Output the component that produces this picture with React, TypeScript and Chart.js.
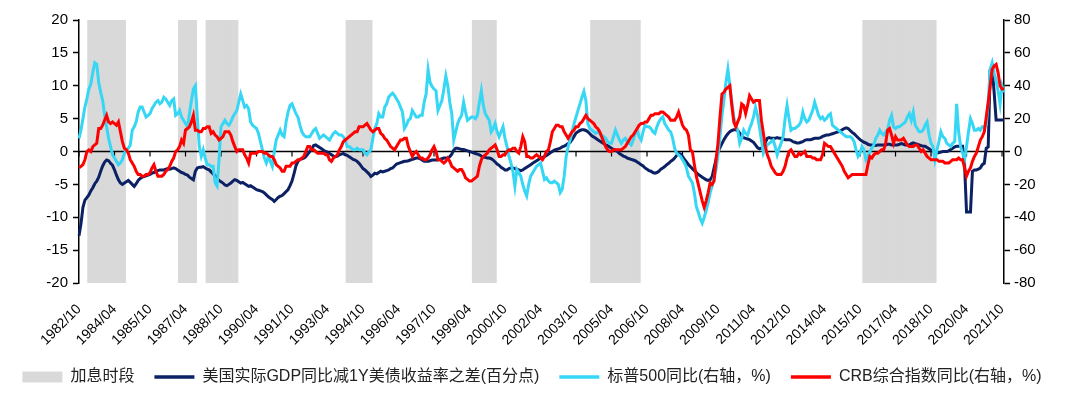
import React, { useEffect, useRef } from "react";
import { Chart, registerables } from "chart.js";

Chart.register(...registerables);

const START_YEAR = 1982;
const START_MONTH = 10;
const LEFT_MIN = -20;
const LEFT_MAX = 20;

const tickLabels = [
  "1982/10", "1984/04", "1985/10", "1987/04", "1988/10", "1990/04", "1991/10",
  "1993/04", "1994/10", "1996/04", "1997/10", "1999/04", "2000/10", "2002/04",
  "2003/10", "2005/04", "2006/10", "2008/04", "2009/10", "2011/04", "2012/10",
  "2014/04", "2015/10", "2017/04", "2018/10", "2020/04", "2021/10",
];

// 加息时段 (start, end)
const hikePeriods: [string, string][] = [
  ["1983/03", "1984/09"],
  ["1987/01", "1987/09"],
  ["1988/03", "1989/06"],
  ["1994/02", "1995/02"],
  ["1999/06", "2000/05"],
  ["2004/06", "2006/06"],
  ["2015/12", "2018/12"],
];

// 美国实际GDP同比减1Y美债收益率之差 (百分点), monthly from 1982/10
const gdpSpread = [
  -12.8, -11.0, -8.5, -7.4, -7.0, -6.6, -6.0, -5.5, -4.9, -4.5,
  -3.9, -3.0, -2.2, -1.6, -1.3, -1.4, -1.8, -2.1, -2.8, -3.6,
  -4.3, -4.8, -5.0, -4.8, -4.6, -4.4, -4.7, -5.0, -5.3, -4.9,
  -4.4, -4.1, -3.9, -3.8, -3.7, -3.6, -3.5, -3.3, -3.2, -3.0,
  -2.9, -2.8, -2.8, -2.8, -2.7, -2.6, -2.7, -2.6, -2.5, -2.6,
  -2.8, -3.0, -3.2, -3.3, -3.5, -3.6, -3.9, -4.1, -4.3, -3.0,
  -2.5, -2.4, -2.4, -2.3, -2.5, -2.7, -2.8, -3.1, -3.4, -3.7,
  -4.1, -4.4, -4.6, -4.8, -5.1, -5.2, -5.0, -4.8, -4.5, -4.3,
  -4.4, -4.6, -4.8, -4.7, -4.9, -5.1, -5.3, -5.2, -5.4, -5.6,
  -5.8, -5.9, -6.0, -6.1, -6.3, -6.6, -6.9, -7.1, -7.3, -7.6,
  -7.3, -7.0, -6.8, -6.7, -6.4, -6.1, -5.8, -5.2, -4.5, -3.4,
  -2.2, -1.5, -1.2, -1.1, -1.0, -0.8, -0.4, 0.0, 0.4, 0.9,
  1.0, 0.8, 0.6, 0.4, 0.2, 0.0, -0.1, -0.3, -0.5, -0.7,
  -0.8, -0.7, -0.5, -0.4, -0.3, -0.5, -0.6, -0.8, -1.0, -1.2,
  -1.3, -1.5, -1.8, -2.2, -2.6, -2.8, -3.1, -3.4, -3.8, -3.6,
  -3.3, -3.4, -3.2, -3.0, -3.1, -3.0, -2.9, -2.8, -2.6, -2.5,
  -2.2, -1.9, -1.8, -1.7, -1.6, -1.5, -1.5, -1.4, -1.3, -1.2,
  -1.1, -1.0, -1.0, -1.1, -1.3, -1.5, -1.5, -1.5, -1.4, -1.3,
  -1.3, -1.3, -1.3, -1.2, -1.1, -1.0, -1.0, -1.0, -0.8, -0.4,
  0.2, 0.5, 0.5, 0.4, 0.3, 0.3, 0.2, 0.1, 0.0, -0.1,
  -0.2, -0.3, -0.4, -0.5, -0.7, -0.8, -0.9, -1.0, -1.0, -1.1,
  -1.3, -1.6, -1.9, -2.1, -2.4, -2.6, -2.8, -2.8, -2.6, -2.5,
  -2.5, -2.6, -2.7, -2.8, -2.9, -2.8, -2.6, -2.4, -2.2, -2.0,
  -1.8, -1.6, -1.4, -1.2, -1.0, -0.9, -0.8, -0.6, -0.4, -0.2,
  0.0, 0.2, 0.3, 0.4, 0.5, 0.7, 0.8, 1.0, 1.2, 1.4,
  1.8, 2.3, 2.8, 3.0, 3.2, 3.3, 3.3, 3.2, 3.0, 2.7,
  2.4, 2.2, 2.0, 1.8, 1.6, 1.4, 1.2, 1.0, 0.9, 0.7,
  0.5, 0.3, 0.2, 0.0, -0.3, -0.5, -0.7, -0.8, -1.0, -1.1,
  -1.2, -1.3, -1.4, -1.6, -1.8, -2.0, -2.2, -2.5, -2.7, -2.9,
  -3.0, -3.2, -3.3, -3.2, -3.0, -2.7, -2.5, -2.3, -2.0, -1.8,
  -1.5, -1.3, -1.0, -0.6, -0.3, -0.4, -0.8, -1.2, -1.6, -2.0,
  -2.3, -2.6, -2.9, -3.2, -3.5, -3.7, -3.9, -4.1, -4.3, -4.4,
  -4.3, -3.8, -2.5, -1.2, 0.0, 0.6, 1.2, 1.8, 2.3, 2.7,
  3.0, 3.2, 3.3, 3.3, 3.2, 2.8, 2.4, 2.1, 2.0, 1.9,
  1.8, 1.6, 1.4, 1.0, 0.6, 0.4, 0.5, 0.7, 1.4, 2.0,
  2.1, 2.0, 2.0, 2.0, 2.1, 2.0, 2.0, 1.9, 1.8, 1.8,
  1.8, 1.7, 1.5, 1.4, 1.3, 1.3, 1.4, 1.5, 1.7, 1.8,
  1.8, 1.8, 1.9, 2.0, 2.0, 2.0, 2.1, 2.3, 2.4, 2.5,
  2.5, 2.6, 2.7, 2.8, 2.9, 3.0, 3.1, 3.3, 3.5, 3.6,
  3.5, 3.2, 2.9, 2.7, 2.4, 2.1, 1.8, 1.6, 1.4, 1.3,
  1.1, 1.0, 1.0, 0.9, 0.9, 1.0, 1.0, 1.0, 1.0, 1.0,
  1.1, 1.1, 1.0, 1.0, 1.0, 1.0, 1.1, 1.2, 1.1, 1.0,
  1.0, 1.0, 1.2, 1.3, 1.2, 1.1, 1.0, 0.9, 0.8, 0.8,
  0.6, 0.4, 0.2, 0.1, -0.1, -0.2, -0.2, -0.1, 0.0, 0.0,
  0.0, 0.1, 0.3, 0.5, 0.7, 0.8, 0.8, 0.8, 0.8, -2.0,
  -9.2, -9.2, -9.2, -3.0, -2.8, -2.8, -2.7, -2.5, -2.0, -1.8,
  0.5, 0.7, 12.4, 12.7, 9.0, 4.8, 4.8, 4.8, 4.8, 4.8,
];

// 标普500同比 (%), right axis
const sp500Yoy = [
  8, 13, 20, 27, 32, 38, 41, 48, 54, 53,
  42, 36, 31, 22, 15, 8, 3, -2, -4, -6,
  -8, -7, -5, -1, 1, 2, 4, 13, 15, 18,
  24, 27, 27, 24, 21, 22, 23, 26, 28, 30,
  31, 29, 30, 33, 32, 30, 28, 31, 32, 22,
  23, 25, 21, 19, 17, 15, 23, 31, 38, 40,
  21, 3, -3, 1, -4, -8, -8, -9, -9, -19,
  -21, -5, 15, 17, 19, 17, 16, 18, 21, 23,
  25, 30, 35, 31, 27, 28, 26, 18, 16, 15,
  14, 11, 6, 1, -4, -7, -3, -6, -9, 0,
  7, 10, 13, 10, 9, 18, 24, 28, 29, 26,
  23, 21, 16, 12, 10, 9, 9, 9, 11, 13,
  14, 11, 8, 9, 10, 9, 8, 7, 9, 11,
  12, 11, 10, 10, 9, 7, 3, 3, 2, 1,
  1, 2, 1, 1, 1, -1, -2, 0, 1, 8,
  14, 17, 23, 21, 21, 27, 29, 33, 34.5, 35.5,
  34, 32, 30, 27, 24, 14, 16, 19, 20, 25,
  23, 21, 21, 22, 22, 30, 35, 49.7, 42, 39.6,
  38, 37, 25, 28, 31, 38, 46, 40, 30, 23,
  7, 12, 17, 20, 22, 30, 24, 19, 20, 21,
  21, 20, 22, 30, 37, 28, 23, 21, 19, 12,
  14, 17, 12, 9, 12, 15, 8, 3, -3, -7,
  -12, -21, -11, -13, -15, -20, -24, -27, -20, -15,
  -13, -11, -9, -8, -7, -12, -17, -16, -18, -19,
  -19, -18, -19, -20, -25, -23, -15, -3, 3, 7,
  12, 17, 21, 25, 29, 33, 36.5, 31, 17, 14,
  13, 12, 11, 12, 11, 10, 9, 8, 6, 5,
  5, 9, 13, 10, 7, 5, 7, 8, 6, 5,
  4, 7, 11, 13, 9, 7, 12, 16, 15, 15,
  14, 12, 11, 15, 18, 20, 21, 17, 15, 13,
  12, 8, 2, -1, -2, -3, -5, -7, -10, -15,
  -17, -19, -25, -33.5, -37, -41, -43.6, -40, -36, -31,
  -25, -21, -16, -11, -2, 9, 22, 31, 42, 50,
  40, 30, 21, 16, 13, 5, 8, 13, 11, 10,
  14, 17, 21, 27, 22, 15, 7, -1, 2, 4,
  5, 6, 7, 3, -2, 2, 5, 9, 20, 28,
  20, 13, 14, 14, 15, 16, 18, 24, 20, 18,
  19, 22, 25, 30, 26, 22, 20, 21, 19, 20,
  22, 23, 16, 15, 14, 13, 12, 11, 10, 9,
  9, 9, 8, 6, 1, -3, -1, 3, 1, -5,
  -3, 0, 2, 4, 8, 10, 13, 11, 10, 12,
  13, 19, 22, 15, 14, 15, 15, 16, 17, 18,
  21, 23, 19, 24, 16, 14, 12, 12, 13, 16,
  18, 10, 5, 3, -5, 1, 6, 12, 9, 8,
  5, 4, 3, 5, 6, 29, 12, 3, -1, -5,
  3, 12, 20, 17, 13, 13, 14, 13, 15, 15,
  16, 30, 50, 54, 48, 43, 37, 29, 40, 36,
];

// CRB综合指数同比 (%), right axis
const crbYoy = [
  -10, -9, -8, -5, 0, 1, 0, 3, 4, 5,
  14, 14, 16, 19, 22, 18, 17, 18, 17, 16,
  18, 12, 6, 2, 1, -1, -5, -7, -9, -12,
  -14, -14, -15, -15, -14, -14, -13, -10, -8, -12,
  -15, -15, -15, -14, -12, -11, -9, -6, -4, 0,
  1, 3, 7, 5, 13, 14, 15, 18, 22, 13,
  13, 12, 12, 14, 14, 15, 15, 11, 12, 10,
  9, 7, 8, 9, 12, 12, 12, 10, 6, 3,
  0, 1, 1, 1, -2, -4, -7, -1, -1, -1,
  -1, 0, 0, 0, -1, -1, -2, -3, -3, -5,
  -8, -9, -10, -12, -12, -9, -9, -9, -7, -7,
  -6, -5, -5, -4, -3, 0, 3, 3, 1, 1,
  0, -1, -1, -1, -1, -2, -2, -5, -6, -4,
  -3, -2, 1, 3, 6, 7, 8, 9, 10, 11,
  12, 12, 15, 15, 15, 16, 17, 15, 13, 12,
  13, 14, 14, 11, 10, 8, 7, 5, 3, 2,
  1, 3, 5, 7, 7, 8, 8, 3, 0, -3,
  -1, 0, -2, -4, -4, -5, -5, -4, -2, 1,
  3, 0, -5, -5, -6, -7, -6, -4, -6, -9,
  -10, -11, -12, -11, -11, -13, -16, -17, -18, -18,
  -17, -16, -15, -9, -5, -3, -2, -1, 1, 2,
  3, 4, 1, -3, -3, -2, -2, 0, 1, 1,
  2, 2, 0, -1, 3, 9, 6, -3, -3, -4,
  -4, -3, -2, -3, -4, -5, -3, 0, 1, 6,
  12, 14, 16, 16, 15, 15, 12, 10, 8, 10,
  12, 13, 15, 15, 17, 18, 20, 22, 20, 19,
  18, 17, 15, 14, 12, 9, 6, 3, 1, 0,
  0, 1, 1, 1, 1, 1, 2, 3, 5, 7,
  9, 10, 12, 14, 16, 17, 17, 18, 18, 20,
  22, 22, 23, 23, 23, 24, 24, 23, 22, 21,
  19, 19, 19, 21, 24, 20, 16, 14, 13, 10,
  1, 0, -8, -15, -20, -25, -30, -34, -30, -25,
  -19, -20, -18, -5, 5, 21, 35, 36, 38, 39,
  40, 28, 18, 15, 18, 21, 29, 28, 23, 28,
  34, 32, 30, 31, 31, 31, 19, 11, 3, -2,
  -5, -9, -11, -13, -14, -14, -14, -12, -9, -4,
  0, 1, -1, -3, -3, -1, -2, -1, 0, -3,
  -3, -3, -4, -4, -5, -5, -5, -2, 5, 4,
  3, 3, 1, -1, -3, -5, -7, -9, -12, -14,
  -16, -15, -14, -14, -14, -14, -14, -14, -14, -14,
  -8, -3, -4, -2, -1, -1, 0, 1, 1, 5,
  13, 14, 10, 5, 9, 7, 7, 7, 8, 6,
  4, 3, 3, 3, 4, 4, 2, 0, 1, -1,
  -3, -4, -5, -5, -5, -5, -6, -6, -6, -7,
  -7, -7, -6, -5, -5, -5, -4, -5, -5, -10,
  -15, -12, -10, -6, -3, -1, 3, 7, 9, 12,
  21, 30, 40, 50, 52, 53, 48, 40, 38, 38,
];

const months: string[] = gdpSpread.map((_, i) => {
  const t = START_MONTH - 1 + i;
  const y = START_YEAR + Math.floor(t / 12);
  const m = (t % 12) + 1;
  return `${y}/${String(m).padStart(2, "0")}`;
});

const bandData = months.map((m) =>
  hikePeriods.some(([s, e]) => m >= s && m <= e) ? [LEFT_MIN, LEFT_MAX] : null
);

const FONT = "'Liberation Sans', 'Noto Sans CJK SC', Arial, sans-serif";
const NAVY = "#0b2163";
const CYAN = "#36d6f5";
const RED = "#ff0000";
const GRAY = "#d9d9d9";

const zeroLinePlugin = {
  id: "zeroLine",
  afterDatasetDraw(chart: any, args: any) {
    if (args.index !== 0) return;
    const { ctx, chartArea, scales } = chart;
    const y0 = scales.y.getPixelForValue(0);
    ctx.save();
    ctx.strokeStyle = "#000";
    ctx.lineWidth = 1.5;
    ctx.beginPath();
    ctx.moveTo(chartArea.left, y0);
    ctx.lineTo(chartArea.right, y0);
    ctx.stroke();
    ctx.lineWidth = 1.2;
    tickLabels.forEach((l) => {
      const i = months.indexOf(l);
      if (i < 0) return;
      const x = scales.x.getPixelForValue(i);
      ctx.beginPath();
      ctx.moveTo(x, y0);
      ctx.lineTo(x, y0 + 5);
      ctx.stroke();
    });
    ctx.restore();
  },
};

export default function App() {
  const ref = useRef<HTMLCanvasElement | null>(null);

  useEffect(() => {
    if (!ref.current) return;
    const chart = new Chart(ref.current, {
      type: "line",
      data: {
        labels: months,
        datasets: [
          {
            type: "bar",
            label: "加息时段",
            data: bandData as any,
            backgroundColor: GRAY,
            borderWidth: 0,
            barPercentage: 1,
            categoryPercentage: 1,
            inflateAmount: 0.6,
            yAxisID: "y",
            order: 4,
          } as any,
          {
            label: "美国实际GDP同比减1Y美债收益率之差(百分点)",
            data: gdpSpread,
            borderColor: NAVY,
            backgroundColor: NAVY,
            borderWidth: 3,
            pointRadius: 0,
            tension: 0,
            yAxisID: "y",
            order: 3,
          },
          {
            label: "标普500同比(右轴，%)",
            data: sp500Yoy,
            borderColor: CYAN,
            backgroundColor: CYAN,
            borderWidth: 3,
            pointRadius: 0,
            tension: 0,
            yAxisID: "y1",
            order: 2,
          },
          {
            label: "CRB综合指数同比(右轴，%)",
            data: crbYoy,
            borderColor: RED,
            backgroundColor: RED,
            borderWidth: 3,
            pointRadius: 0,
            tension: 0,
            yAxisID: "y1",
            order: 1,
          },
        ],
      },
      options: {
        responsive: true,
        maintainAspectRatio: false,
        animation: false,
        layout: { padding: { left: 0, right: 16, top: 20, bottom: 6 } },
        plugins: {
          tooltip: { enabled: false },
          legend: {
            position: "bottom",
            labels: {
              font: { family: FONT, size: 16 },
              color: "#222",
              padding: 20,
              usePointStyle: true,
              pointStyleWidth: 40,
              boxWidth: 40,
              boxHeight: 11,
              sort: (a: any, b: any) => a.datasetIndex - b.datasetIndex,
              generateLabels: (chart: any) =>
                chart.data.datasets.map((ds: any, i: number) => {
                  const isBand = i === 0;
                  return {
                    text: ds.label,
                    fillStyle: isBand ? GRAY : ds.borderColor,
                    strokeStyle: isBand ? GRAY : ds.borderColor,
                    lineWidth: isBand ? 0 : 3.5,
                    pointStyle: isBand ? "rect" : "line",
                    datasetIndex: i,
                    hidden: false,
                    fontColor: "#222",
                  };
                }),
            },
          },
        },
        scales: {
          x: {
            type: "category",
            offset: false,
            grid: { display: false, drawTicks: false },
            border: { display: false },
            ticks: {
              autoSkip: false,
              minRotation: 45,
              maxRotation: 45,
              padding: 18,
              color: "#000",
              font: { family: FONT, size: 14 },
              callback: (_v: any, index: number) =>
                tickLabels.includes(months[index]) ? months[index] : null,
            },
            afterFit: (s: any) => {
              s.height = 66;
            },
          },
          y: {
            position: "left",
            min: LEFT_MIN,
            max: LEFT_MAX,
            ticks: {
              stepSize: 5,
              color: "#000",
              padding: 5,
              font: { family: FONT, size: 15 },
            },
            grid: { drawOnChartArea: false, tickLength: 6, tickColor: "#000", tickWidth: 1.5 },
            border: { display: true, color: "#000", width: 1.5 },
            afterFit: (s: any) => {
              s.width = 79;
            },
          },
          y1: {
            position: "right",
            min: -80,
            max: 80,
            ticks: {
              stepSize: 20,
              color: "#000",
              padding: 4,
              font: { family: FONT, size: 15 },
            },
            grid: { drawOnChartArea: false, tickLength: 6, tickColor: "#000", tickWidth: 1.5 },
            border: { display: true, color: "#000", width: 1.5 },
            afterFit: (s: any) => {
              s.width = 60;
            },
          },
        },
      },
      plugins: [zeroLinePlugin],
    } as any);
    return () => chart.destroy();
  }, []);

  return (
    <div style={{ position: "fixed", left: 0, top: 0, width: 1080, height: 401, background: "#fff" }}>
      <canvas ref={ref} />
    </div>
  );
}
